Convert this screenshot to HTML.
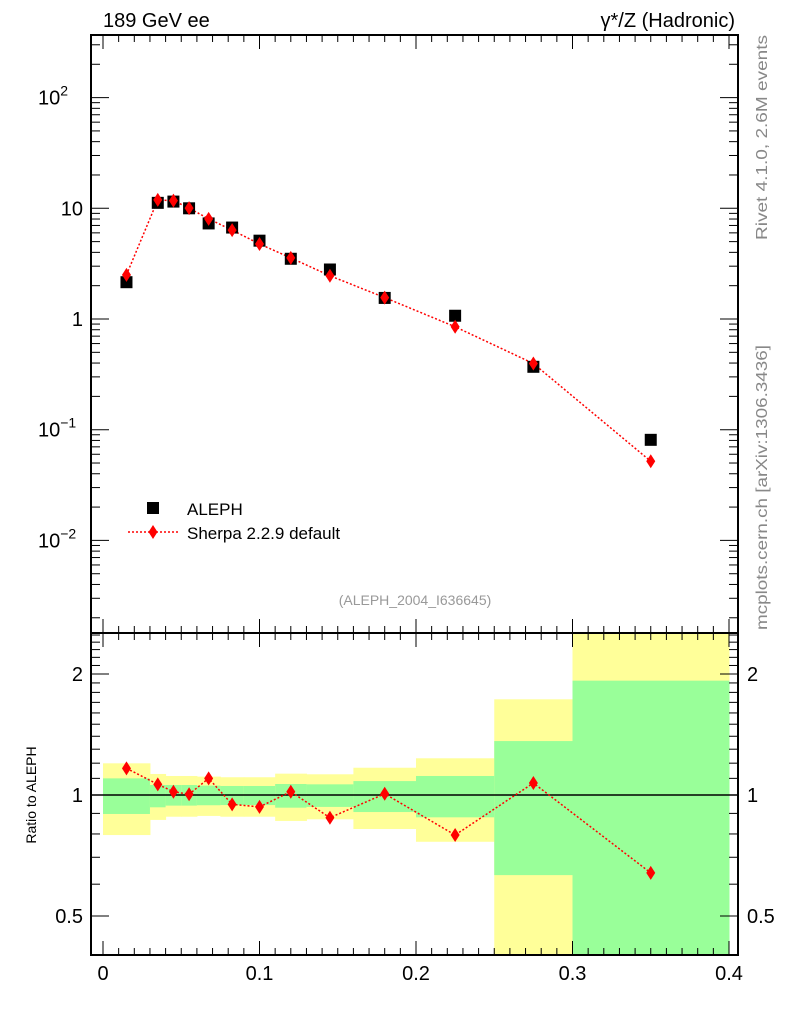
<!DOCTYPE html>
<html><head><meta charset="utf-8"><style>
body{margin:0;background:#fff;}
svg{display:block;font-family:"Liberation Sans",sans-serif;}
</style></head><body>
<svg id="c" width="786" height="1024"></svg>
<script>
const xCenters=[0.015,0.035,0.045,0.055,0.0675,0.0825,0.1,0.12,0.145,0.18,0.225,0.275,0.35];
const binEdges=[0,0.03,0.04,0.05,0.06,0.075,0.09,0.11,0.13,0.16,0.2,0.25,0.3,0.4];
const alephVals=[2.15,11.2,11.5,10.0,7.3,6.7,5.1,3.5,2.8,1.55,1.07,0.37,0.081];
const sherpaRatio=[1.165,1.063,1.019,1.004,1.10,0.948,0.934,1.019,0.878,1.007,0.795,1.071,0.64];
const greenUp=[1.10,1.059,1.059,1.059,1.055,1.053,1.053,1.065,1.063,1.083,1.115,1.362,1.925];
const greenLo=[0.897,0.932,0.941,0.941,0.943,0.944,0.944,0.930,0.934,0.907,0.880,0.632,0.3];
const yellowUp=[1.199,1.128,1.115,1.115,1.111,1.107,1.107,1.130,1.126,1.169,1.234,1.73,3.0];
const yellowLo=[0.795,0.867,0.883,0.883,0.887,0.883,0.883,0.862,0.870,0.823,0.765,0.2,0.2];
const yTickVals=[0.01,0.1,1,10,100];
const rTickVals=[0.5,1,2];
const xTickVals=[0,0.1,0.2,0.3,0.4];

const NS="http://www.w3.org/2000/svg",svg=document.getElementById('c');
const L=91,R=738,T=35,MB=633,RB=955;
const X=v=>103+v*1565;
const Y=v=>319-110.7*Math.log10(v);
const YR=v=>795-402*Math.log10(v);
function mk(t,a,p){const e=document.createElementNS(NS,t);for(const k in a)e.setAttribute(k,a[k]);(p||svg).appendChild(e);return e;}
function clamp(v,a,b){return Math.max(a,Math.min(b,v));}
const bands=mk('g',{});


for(let i=0;i<xCenters.length;i++){
  const x0=X(binEdges[i]),x1=X(binEdges[i+1]);
  const yu=clamp(YR(yellowUp[i]),MB,RB),yl=clamp(YR(yellowLo[i]),MB,RB);
  const r=mk('rect',{x:x0,y:yu,width:x1-x0+0.5,height:yl-yu,fill:'#ffff99'},bands);
  
  const gu=clamp(YR(greenUp[i]),MB,RB),gl=clamp(YR(greenLo[i]),MB,RB);
  const g=mk('rect',{x:x0,y:gu,width:x1-x0+0.5,height:gl-gu,fill:'#99ff99'},bands);
  
}
const f1=mk('rect',{x:L,y:T,width:R-L,height:RB-T,fill:'none',stroke:'#000','stroke-width':2});

const f2=mk('line',{x1:L,x2:R,y1:MB,y2:MB,stroke:'#000','stroke-width':2});

mk('line',{x1:L,x2:R,y1:YR(1),y2:YR(1),stroke:'#000','stroke-width':1.5});
for(let k=0;k<=40;k++){const v=k/100,x=X(v);const len=k%10==0?14:7;
 for(const [yb,yt] of [[MB,T],[RB,MB]]){mk('line',{x1:x,x2:x,y1:yb,y2:yb-len,stroke:'#000'});mk('line',{x1:x,x2:x,y1:yt,y2:yt+len,stroke:'#000'});}}
xTickVals.forEach(v=>{const t=mk('text',{x:X(v),y:980,'font-size':20,'text-anchor':'middle'});t.textContent=String(v);
 });
for(let d=-3;d<=2;d++)for(let m=1;m<=9;m++){const v=m*Math.pow(10,d),y=Y(v);if(y<T||y>MB)continue;const len=m==1?18:9;
 mk('line',{x1:L,x2:L+len,y1:y,y2:y,stroke:'#000'});mk('line',{x1:R,x2:R-len,y1:y,y2:y,stroke:'#000'});}
const ylab={0.01:['10','−2'],0.1:['10','−1'],1:['1',''],10:['10',''],100:['10','2']};
yTickVals.forEach(v=>{const t=mk('text',{x:83,y:Y(v)+7,'font-size':20,'text-anchor':'end'});
 if(ylab[v][1]){t.setAttribute('x',38);t.setAttribute('text-anchor','start');t.textContent=ylab[v][0];const s=mk('tspan',{'font-size':14,dy:-9},t);s.textContent=ylab[v][1];}
 else t.textContent=ylab[v][0];
 });
for(let k=4;k<=25;k++){const v=k/10,y=YR(v);if(y<MB||y>RB)continue;const len=(k==5||k==10||k==20)?18:9;
 mk('line',{x1:L,x2:L+len,y1:y,y2:y,stroke:'#000'});mk('line',{x1:R,x2:R-len,y1:y,y2:y,stroke:'#000'});}
rTickVals.forEach(v=>{const y=YR(v)+7;
 const a=mk('text',{x:83,y:y,'font-size':20,'text-anchor':'end'});a.textContent=String(v);
 
 const b=mk('text',{x:747,y:y,'font-size':20});b.textContent=String(v);
 });
const sherpaVals=alephVals.map((v,i)=>v*sherpaRatio[i]);
const ln=mk('polyline',{points:xCenters.map((x,i)=>X(x)+','+Y(sherpaVals[i])).join(' '),fill:'none',stroke:'#f00','stroke-width':1.5,'stroke-dasharray':'2,2'});

xCenters.forEach((x,i)=>{const s=mk('rect',{x:X(x)-6,y:Y(alephVals[i])-6,width:12,height:12,fill:'#000'});
 });
function diamond(cx,cy,p){return mk('polygon',{points:`${cx},${cy-7} ${cx+4.5},${cy} ${cx},${cy+7} ${cx-4.5},${cy}`,fill:'#f00'},p);}
xCenters.forEach((x,i)=>{const d=diamond(X(x),Y(sherpaVals[i]));});
const rl=mk('polyline',{points:xCenters.map((x,i)=>X(x)+','+YR(sherpaRatio[i])).join(' '),fill:'none',stroke:'#f00','stroke-width':1.5,'stroke-dasharray':'2,2'});

xCenters.forEach((x,i)=>{const d=diamond(X(x),YR(sherpaRatio[i]));});
const lg=mk('g',{});
mk('rect',{x:147,y:502,width:12,height:12,fill:'#000'},lg);
let t=mk('text',{x:187,y:515,'font-size':17},lg);t.textContent='ALEPH';
mk('line',{x1:128,x2:178,y1:532,y2:532,stroke:'#f00','stroke-width':1.5,'stroke-dasharray':'2,2'},lg);
diamond(153,532,lg);
t=mk('text',{x:187,y:539,'font-size':17},lg);t.textContent='Sherpa 2.2.9 default';
function txt(s,a,name){const e=mk('text',a);e.textContent=s;return e;}
txt('189 GeV ee',{x:103,y:27,'font-size':20},'title-left');
txt('γ*/Z (Hadronic)',{x:735,y:27,'font-size':20,'text-anchor':'end'},'title-right');
txt('(ALEPH_2004_I636645)',{x:415,y:605,'font-size':14,fill:'#999','text-anchor':'middle'},'analysis-id');
txt('Rivet 4.1.0,  2.6M events',{x:0,y:0,'font-size':16,fill:'#888','text-anchor':'end',textLength:205,lengthAdjust:'spacingAndGlyphs',transform:'translate(767,35) rotate(-90)'},'rivet-label');
txt('mcplots.cern.ch [arXiv:1306.3436]',{x:0,y:0,'font-size':16,fill:'#888','text-anchor':'end',textLength:285,lengthAdjust:'spacingAndGlyphs',transform:'translate(767,345) rotate(-90)'},'mcplots-label');
txt('Ratio to ALEPH',{x:0,y:0,'font-size':14,'text-anchor':'middle',transform:'translate(36,795) rotate(-90)'},'ratio-axis-title');
</script>
</body></html>
